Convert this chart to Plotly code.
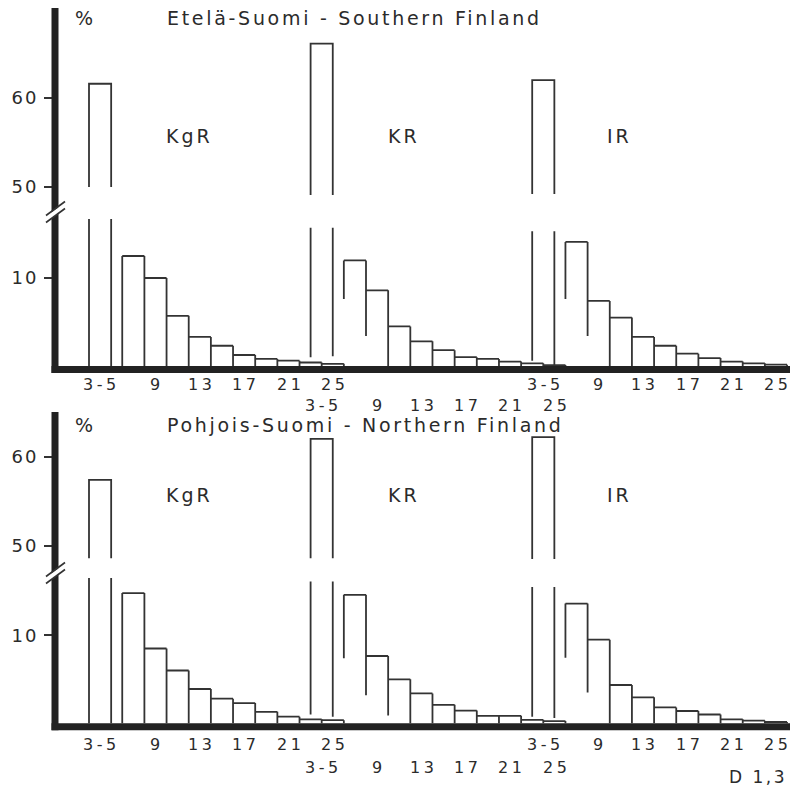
import plotly.graph_objects as go

W, H = 790, 791

# ---------------- data ----------------
classes = ["3-5", "7", "9", "11", "13", "15", "17", "19", "21", "23", "25"]
class_lo = [3, 6, 8, 10, 12, 14, 16, 18, 20, 22, 24]
class_hi = [5, 8, 10, 12, 14, 16, 18, 20, 22, 24, 26]
group_names = ["KgR", "KR", "IR"]
group_offset = [0, 20, 40]

tick_vals = [4, 9, 13, 17, 21, 25]
tick_text = ["3-5", "9", "13", "17", "21", "25"]

south_kgr = [61.6, 12.5, 10.0, 5.7, 3.3, 2.3, 1.25, 0.8, 0.6, 0.4, 0.25]
south_kr = [66.1, 12.0, 8.6, 4.5, 2.8, 1.8, 1.0, 0.8, 0.5, 0.3, 0.1]
south_ir = [62.0, 14.1, 7.4, 5.5, 3.3, 2.3, 1.4, 0.9, 0.5, 0.3, 0.15]

north_kgr = [57.4, 14.8, 8.5, 6.0, 3.9, 2.8, 2.3, 1.3, 0.75, 0.45, 0.35]
north_kr = [62.0, 14.6, 7.65, 5.0, 3.4, 2.1, 1.45, 0.85, 0.85, 0.4, 0.25]
north_ir = [62.2, 13.6, 9.5, 4.35, 2.95, 1.8, 1.4, 1.0, 0.45, 0.3, 0.15]

# drawing of the broken 3-5 bar: lower stub top, upper stub bottom, left/right line floor
south_break = [(16.7, 50.0, 0.0, 0.0), (15.7, 49.1, 1.0, 1.1), (15.3, 49.2, 0.6, 0.0)]
north_break = [(16.5, 48.6, 0.0, 0.0), (16.1, 48.6, 1.0, 0.75), (15.5, 48.5, 0.75, 0.6)]
# where the first edges of the tail bars stop above the baseline
south_edge_floor = [[0, 0, 0], [7.6, 3.4, 0], [7.6, 3.4, 0]]
north_edge_floor = [[0, 0, 0], [7.4, 3.2, 0.9], [7.45, 3.5, 0]]

# label rows: KgR and IR labels on the first row, KR labels on the second row
label_row = [1, 2, 1]

panels = [
    dict(title="Etelä-Suomi - Southern Finland", series=[south_kgr, south_kr, south_ir],
         brk=south_break, floors=south_edge_floor, base=366.0, top=8.0, cut=212.0,
         v60=98.0, v50=187.0, label_y=135.5, head_y=17.5, row_y={1: 384.5, 2: 405.5}),
    dict(title="Pohjois-Suomi - Northern Finland", series=[north_kgr, north_kr, north_ir],
         brk=north_break, floors=north_edge_floor, base=723.3, top=412.0, cut=573.0,
         v60=456.7, v50=545.7, label_y=494.5, head_y=425.0, row_y={1: 744.5, 2: 767.5}),
]

LINE = "#333333"
TXT = "#2b2b2b"
FONT = "DejaVu Sans"
PXU_Y = 8.8   # px per % (lower)
PXU_YU = 8.9  # px per % (upper)
X0PX, UNIT = 89.0, 11.08  # x=3 at 89px


def xval(px):
    return 3 + (px - X0PX) / UNIT


def sp(text, ls):
    return '<span style="letter-spacing:%spx">%s</span>' % (ls, text)


def fy(px):
    return 1 - px / H


fig = go.Figure()
layout = dict(width=W, height=H, margin=dict(l=0, r=0, t=0, b=0),
              paper_bgcolor="white", plot_bgcolor="white", showlegend=False)
shapes, annotations = [], []

for p, P in enumerate(panels):
    xa = "x" if p == 0 else "x2"
    ylo = "y" if p == 0 else "y3"
    yup = "y2" if p == 0 else "y4"
    for g, vals in enumerate(P["series"]):
        off = group_offset[g]
        tail = vals[1:]
        lo = [v + off for v in class_lo[1:]]
        hi = [v + off for v in class_hi[1:]]
        xs, ys = [], []
        for l, r, h in zip(lo, hi, tail):
            xs += [l, r, None]; ys += [h, h, None]
        edges = lo + [hi[-1]]
        for k, e in enumerate(edges):
            hl = tail[k - 1] if k > 0 else 0
            hr = tail[k] if k < len(tail) else 0
            fl = P["floors"][g][k] if k < 3 else 0
            xs += [e, e, None]; ys += [fl, max(hl, hr), None]
        stub_top, up_bot, fl_l, fl_r = P["brk"][g]
        xl, xr = class_lo[0] + off, class_hi[0] + off
        xs += [xl, xl, None, xr, xr, None]; ys += [fl_l, stub_top, None, fl_r, stub_top, None]
        fig.add_trace(go.Scatter(x=xs, y=ys, mode="lines", xaxis=xa, yaxis=ylo,
                                 line=dict(color=LINE, width=1.8), hoverinfo="skip",
                                 name=group_names[g]))
        fig.add_trace(go.Scatter(x=[xl, xl, xr, xr], y=[up_bot, vals[0], vals[0], up_bot],
                                 mode="lines", xaxis=xa, yaxis=yup,
                                 line=dict(color=LINE, width=1.8), hoverinfo="skip",
                                 name=group_names[g] + " " + classes[0]))
        annotations.append(dict(text=sp(group_names[g], 3), x=[12.1, 31.4, 50.9][g],
                                y=fy(P["label_y"]), xref=xa, yref="paper", showarrow=False,
                                xanchor="center", yanchor="middle",
                                font=dict(family=FONT, size=19, color=TXT)))
        # class labels under the baseline
        for tv, tt in zip(tick_vals, tick_text):
            annotations.append(dict(text=sp(tt, 3.5), x=tv + off + 0.16,
                                    y=fy(P["row_y"][label_row[g]]),
                                    xref=xa, yref="paper", showarrow=False,
                                    xanchor="center", yanchor="middle",
                                    font=dict(family=FONT, size=16, color=TXT)))

    base, top, cut = P["base"], P["top"], P["cut"]
    dom_lo = [fy(base + 6.5), fy(cut)]
    dom_up = [fy(cut), fy(top)]
    rng_lo = [-6.5 / PXU_Y, (base - cut) / PXU_Y]
    rng_up = [50 - (cut - P["v50"]) / PXU_YU, 60 + (P["v60"] - top) / PXU_YU]
    common_y = dict(showgrid=False, zeroline=False, showline=False, ticks="outside",
                    ticklen=10, tickwidth=1.6, tickcolor=LINE, ticklabelstandoff=2,
                    tickfont=dict(family=FONT, size=18, color=TXT))
    n = 1 if p == 0 else 3
    layout["yaxis" + ("" if n == 1 else str(n))] = dict(
        domain=dom_lo, range=rng_lo, anchor=xa, tickvals=[10],
        ticktext=[sp("10", 2)], **common_y)
    layout["yaxis" + str(n + 1)] = dict(
        domain=dom_up, range=rng_up, anchor=xa, tickvals=[50, 60],
        ticktext=[sp("50", 2), sp("60", 2)], **common_y)
    layout["xaxis" + ("" if p == 0 else "2")] = dict(
        anchor=ylo, domain=[55 / W, 1], range=[xval(55), xval(790)],
        showgrid=False, zeroline=False, showline=False, ticks="", showticklabels=False)

    # thick axis lines
    bl = base + 3.5
    shapes.append(dict(type="line", xref="paper", yref="paper", x0=51.5 / W, x1=1,
                       y0=fy(bl), y1=fy(bl), line=dict(color="#222222", width=7)))
    shapes.append(dict(type="line", xref="paper", yref="paper", x0=55 / W, x1=55 / W,
                       y0=fy(base + 7), y1=fy(top), line=dict(color="#222222", width=7)))
    # axis break mark
    c = cut
    shapes.append(dict(type="line", xref="paper", yref="paper", x0=45 / W, x1=66 / W,
                       y0=fy(c + 8), y1=fy(c - 7), line=dict(color="white", width=5)))
    for d in (-3.5, 3.5):
        shapes.append(dict(type="line", xref="paper", yref="paper", x0=46 / W, x1=65 / W,
                           y0=fy(c + 7 + d), y1=fy(c - 7 + d), line=dict(color=LINE, width=1.6)))

    annotations.append(dict(text="%", x=84 / W, y=fy(P["head_y"]), xref="paper", yref="paper",
                            xanchor="center", yanchor="middle", showarrow=False,
                            font=dict(family=FONT, size=19, color=TXT)))
    annotations.append(dict(text=sp(P["title"], 2.7), x=165 / W, y=fy(P["head_y"]),
                            xref="paper", yref="paper", xanchor="left", yanchor="middle",
                            showarrow=False, font=dict(family=FONT, size=19, color=TXT)))

annotations.append(dict(text=sp("D 1,3", 2.5), x=789 / W, y=fy(777), xref="paper", yref="paper",
                        xanchor="right", yanchor="middle", showarrow=False,
                        font=dict(family=FONT, size=17, color=TXT)))

layout["shapes"] = shapes
layout["annotations"] = annotations
fig.update_layout(**layout)
fig.write_html("out.html")
